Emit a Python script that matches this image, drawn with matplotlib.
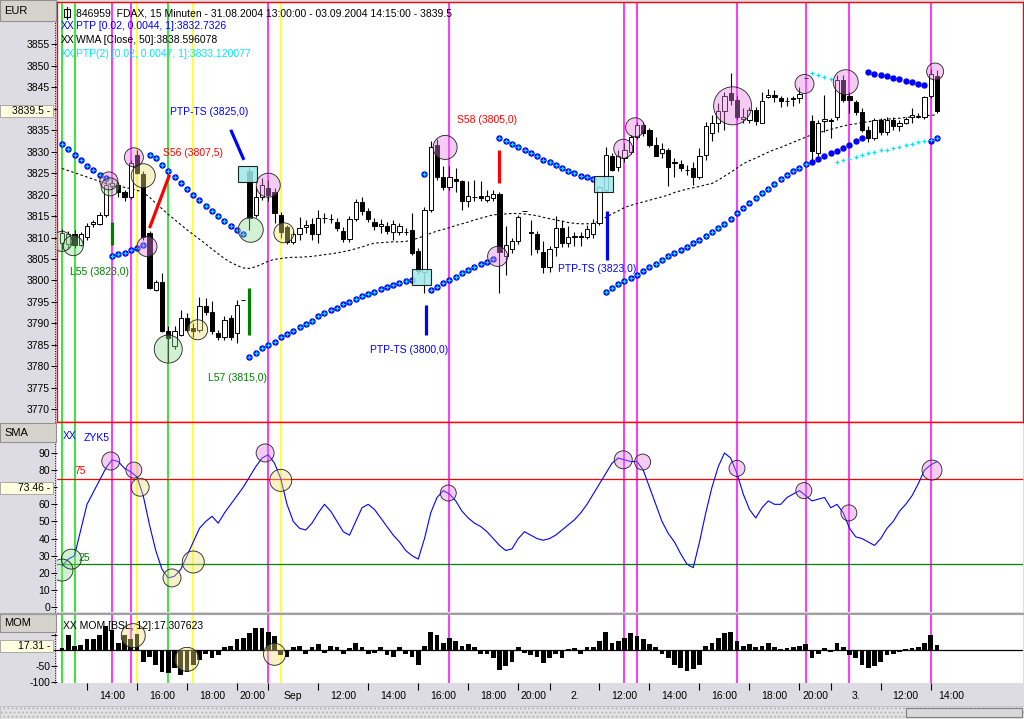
import numpy as np
import matplotlib
matplotlib.use('Agg')
import matplotlib.pyplot as plt
from matplotlib.patches import Rectangle
from matplotlib.lines import Line2D

plt.rcParams['font.family'] = ['Liberation Sans', 'DejaVu Sans']
plt.rcParams['font.size'] = 7.5

# ---------------- data (15 min bars, 31.08.2004 13:00 .. 03.09.2004 14:15) ----------------
opens = [3808.8, 3808.4, 3810.8, 3808.3, 3810.2, 3813.1, 3813.1, 3815.3, 3822.1, 3822.3,
         3820.5, 3819.5, 3829.2, 3824.8, 3811.0, 3797.8, 3799.7, 3788.1, 3784.6, 3787.3,
         3791.2, 3788.8, 3788.5, 3794.1, 3792.7, 3787.7, 3786.8, 3791.2, 3787.7, 3795.5,
         3825.4, 3815.3, 3819.5, 3821.5, 3820.7, 3815.3, 3812.5, 3809.0, 3810.8, 3812.5,
         3813.2, 3810.9, 3814.5, 3814.4, 3813.7, 3811.6, 3809.6, 3814.3, 3818.2, 3816.1,
         3813.7, 3812.6, 3812.7, 3811.4, 3811.4, 3811.4, 3811.8, 3806.8, 3802.0, 3816.5,
         3831.6, 3824.1, 3821.7, 3823.6, 3823.1, 3818.4, 3819.4, 3819.7, 3818.8, 3819.1,
         3820.2, 3805.6, 3807.3, 3809.1, 3816.1, 3811.2, 3810.9, 3806.7, 3803.1, 3807.9,
         3812.2, 3808.7, 3810.2, 3810.4, 3810.2, 3810.9, 3813.4, 3821.1, 3828.9, 3826.5,
         3828.5, 3830.0, 3833.5, 3836.2, 3835.1, 3831.6, 3829.6, 3830.3, 3827.5, 3827.2,
         3825.8, 3826.3, 3824.2, 3829.3, 3834.4, 3836.6, 3839.4, 3843.6, 3842.1, 3837.6,
         3837.4, 3839.7, 3836.6, 3842.7, 3843.2, 3842.6, 3841.9, 3842.5, 3842.6, 3847.2,
         3837.2, 3829.7, 3837.2, 3837.3, 3838.2, 3846.8, 3842.9, 3841.6, 3839.2, 3835.1,
         3833.2, 3837.4, 3834.6, 3837.4, 3836.1, 3836.7, 3838.0, 3838.0, 3838.2, 3843.1,
         3847.6]
highs = [3812.0, 3811.5, 3811.8, 3811.3, 3813.5, 3814.0, 3816.0, 3823.5, 3823.7, 3823.0,
         3821.0, 3828.1, 3830.5, 3825.5, 3811.5, 3800.2, 3801.7, 3789.3, 3789.3, 3793.1,
         3792.3, 3790.0, 3796.2, 3795.8, 3795.1, 3788.5, 3791.6, 3792.0, 3795.5, 3795.5,
         3826.5, 3821.9, 3823.9, 3823.5, 3821.5, 3816.0, 3813.0, 3811.6, 3814.9, 3814.0,
         3814.5, 3816.5, 3815.7, 3815.5, 3814.5, 3812.5, 3815.0, 3819.0, 3819.5, 3816.9,
         3814.5, 3814.4, 3813.6, 3814.1, 3813.5, 3812.2, 3815.7, 3807.5, 3817.0, 3832.4,
         3833.0, 3826.6, 3826.6, 3826.2, 3823.5, 3823.1, 3823.4, 3823.1, 3821.0, 3821.1,
         3820.7, 3812.6, 3810.0, 3815.3, 3816.1, 3814.1, 3811.5, 3809.1, 3808.0, 3815.0,
         3814.0, 3812.8, 3811.4, 3811.4, 3813.0, 3814.3, 3822.0, 3831.0, 3829.6, 3830.4,
         3832.0, 3834.0, 3837.0, 3837.0, 3835.5, 3833.5, 3832.0, 3830.8, 3828.5, 3828.1,
         3826.9, 3827.7, 3830.8, 3837.0, 3838.6, 3841.3, 3844.0, 3848.4, 3842.9, 3840.1,
         3840.5, 3840.5, 3844.0, 3844.6, 3844.4, 3842.9, 3842.7, 3842.9, 3845.2, 3847.2,
         3838.6, 3837.4, 3843.3, 3837.9, 3847.9, 3847.9, 3844.0, 3842.0, 3840.2, 3835.9,
         3837.9, 3837.9, 3838.0, 3838.2, 3837.4, 3838.2, 3840.3, 3839.0, 3843.0, 3849.3,
         3849.0]
lows = [3807.0, 3807.5, 3807.5, 3808.0, 3809.4, 3812.5, 3813.0, 3814.9, 3821.3, 3819.5,
        3818.6, 3819.0, 3824.8, 3809.5, 3798.0, 3797.5, 3788.0, 3781.1, 3784.0, 3787.0,
        3788.0, 3786.9, 3788.0, 3792.0, 3787.5, 3786.2, 3786.2, 3786.1, 3785.4, 3795.5,
        3811.8, 3814.9, 3818.8, 3818.5, 3813.3, 3810.0, 3808.5, 3808.5, 3809.4, 3811.0,
        3809.5, 3808.7, 3813.3, 3813.5, 3811.5, 3809.0, 3809.0, 3813.8, 3815.3, 3813.7,
        3811.8, 3811.0, 3810.9, 3809.5, 3810.5, 3810.6, 3806.0, 3801.5, 3797.0, 3816.0,
        3823.5, 3821.1, 3821.0, 3820.7, 3816.5, 3817.1, 3818.4, 3818.4, 3818.3, 3818.4,
        3797.0, 3801.3, 3806.5, 3808.5, 3816.1, 3806.0, 3806.5, 3801.7, 3802.0, 3805.6,
        3807.7, 3807.7, 3808.0, 3808.0, 3809.7, 3810.0, 3813.0, 3820.5, 3825.4, 3825.4,
        3827.5, 3829.5, 3833.0, 3833.7, 3831.0, 3828.9, 3828.5, 3821.9, 3824.2, 3825.4,
        3824.6, 3822.3, 3823.7, 3828.1, 3832.4, 3834.7, 3835.1, 3840.9, 3837.4, 3836.6,
        3836.8, 3836.2, 3836.6, 3842.5, 3841.7, 3840.5, 3840.6, 3840.6, 3841.3, 3847.2,
        3827.7, 3828.9, 3834.7, 3833.2, 3837.4, 3841.5, 3839.0, 3838.6, 3834.7, 3832.2,
        3832.8, 3834.0, 3834.0, 3835.1, 3834.9, 3836.4, 3836.7, 3837.8, 3837.6, 3842.6,
        3839.0]
closes = [3811.0, 3810.8, 3808.3, 3810.8, 3812.6, 3813.6, 3815.3, 3822.3, 3822.8, 3820.5,
          3819.5, 3827.3, 3825.0, 3810.2, 3798.2, 3799.7, 3788.1, 3786.5, 3788.1, 3791.2,
          3788.5, 3788.1, 3794.1, 3792.7, 3788.1, 3786.8, 3790.8, 3786.8, 3794.3, 3795.5,
          3814.5, 3819.5, 3822.3, 3819.9, 3815.7, 3811.4, 3809.0, 3810.8, 3812.2, 3813.0,
          3810.9, 3814.5, 3814.6, 3814.3, 3812.2, 3809.6, 3814.3, 3818.2, 3816.1, 3814.3,
          3812.6, 3813.2, 3811.6, 3813.2, 3812.7, 3811.3, 3806.4, 3802.1, 3816.5, 3831.2,
          3824.1, 3821.7, 3824.1, 3823.1, 3818.4, 3819.6, 3819.5, 3819.1, 3819.7, 3820.2,
          3806.7, 3808.2, 3809.1, 3814.8, 3816.1, 3811.1, 3807.3, 3803.1, 3807.3, 3812.2,
          3808.7, 3810.1, 3810.3, 3810.2, 3812.0, 3813.3, 3821.8, 3829.3, 3825.8, 3828.9,
          3830.4, 3833.5, 3836.2, 3834.3, 3831.6, 3829.0, 3830.6, 3826.5, 3827.4, 3826.1,
          3825.7, 3824.2, 3828.9, 3835.9, 3836.8, 3839.4, 3842.9, 3842.1, 3838.0, 3838.1,
          3839.7, 3837.2, 3841.9, 3843.2, 3842.7, 3841.9, 3841.8, 3842.4, 3843.4, 3847.2,
          3830.1, 3836.7, 3837.7, 3837.2, 3846.8, 3842.1, 3842.1, 3839.2, 3835.1, 3833.2,
          3837.4, 3834.6, 3837.4, 3836.1, 3836.7, 3837.7, 3838.6, 3838.4, 3842.7, 3848.1,
          3839.5]

wma = [3826.1, 3825.6, 3825.1, 3824.6, 3824.1, 3823.6, 3823.1, 3822.6, 3822.3, 3822.0,
       3821.7, 3821.4, 3821.0, 3820.5, 3819.4, 3818.0, 3816.7, 3815.4, 3814.2, 3813.0,
       3811.8, 3810.7, 3809.6, 3808.5, 3807.3, 3806.2, 3805.1, 3804.2, 3803.5, 3802.9,
       3802.8, 3803.2, 3803.8, 3804.5, 3804.9, 3805.1, 3805.3, 3805.4, 3805.4, 3805.5,
       3805.6, 3805.8, 3806.0, 3806.2, 3806.4, 3806.7, 3807.0, 3807.4, 3807.8, 3808.3,
       3808.7, 3808.8, 3808.9, 3809.0, 3809.0, 3809.1, 3809.4, 3809.9, 3810.4, 3811.0,
       3811.5, 3811.9, 3812.3, 3812.8, 3813.2, 3813.6, 3814.1, 3814.5, 3814.9, 3815.3,
       3815.4, 3815.5, 3815.6, 3815.6, 3815.5, 3815.3, 3815.1, 3814.7, 3814.4, 3814.1,
       3813.8, 3813.5, 3813.3, 3813.2, 3813.2, 3813.3, 3813.9, 3814.7, 3815.5, 3816.2,
       3817.0, 3817.5, 3817.9, 3818.3, 3818.7, 3819.1, 3819.5, 3819.9, 3820.5, 3820.9,
       3821.3, 3821.6, 3821.9, 3822.3, 3822.6, 3823.4, 3824.3, 3825.2, 3826.2, 3827.2,
       3827.9, 3828.5, 3829.2, 3829.9, 3830.5, 3831.0, 3831.6, 3832.2, 3832.8, 3833.4,
       3834.0, 3834.4, 3834.8, 3835.2, 3835.6, 3836.0, 3836.3, 3836.5, 3836.8, 3837.0,
       3837.2, 3837.4, 3837.6, 3837.7, 3837.8, 3838.0, 3838.1, 3838.2, 3838.4, 3838.5,
       3838.6]

nan = np.nan
ptp = [3831.7, 3830.6, 3829.3, 3828.0, 3826.7, 3825.8, 3824.6, 3823.8, 3805.7, 3806.1,
       3806.5, 3807.0, 3807.5, 3808.2, 3829.3, 3828.5, 3827.0, 3825.6, 3824.2, 3822.8,
       3821.3, 3820.0, 3818.8, 3817.4, 3816.2, 3815.1, 3813.9, 3812.7, 3811.8, 3810.8,
       3782.2, 3783.2, 3784.2, 3785.0, 3785.7, 3786.8, 3787.5, 3788.3, 3789.2, 3789.9,
       3790.6, 3791.6, 3792.3, 3793.0, 3793.6, 3794.4, 3795.0, 3795.7, 3796.3, 3796.9,
       3797.4, 3798.0, 3798.5, 3799.0, 3799.4, 3799.8, 3800.2, nan, 3824.8, 3797.7,
       3798.5, 3799.4, 3800.1, 3800.9, 3801.7, 3802.5, 3803.1, 3803.8, 3804.4, 3805.0,
       3833.2, 3832.4, 3831.8, 3831.2, 3830.5, 3829.7, 3828.9, 3828.1, 3827.5, 3826.8,
       3826.2, 3825.5, 3825.0, 3824.4, 3824.0, 3823.6, nan, 3797.4, 3798.2, 3799.1,
       3799.8, 3800.5, 3801.3, 3802.2, 3803.1, 3803.9, 3804.7, 3805.6, 3806.4, 3807.1,
       3807.9, 3808.7, 3809.5, 3810.4, 3811.3, 3812.2, 3813.1, 3814.4, 3815.7, 3816.9,
       3818.0, 3819.2, 3820.3, 3821.4, 3822.5, 3823.6, 3824.5, 3825.4, 3826.3, 3827.2,
       3827.6, 3828.2, 3828.9, 3829.6, 3830.2, 3830.9, 3831.6, 3832.4, 3833.2, 3848.6,
       3848.2, 3847.9, 3847.6, 3847.3, 3846.9, 3846.6, 3846.3, 3845.9, 3845.6, 3832.6,
       3833.2]
# PTP(2) runs on top of PTP until bar 119, then splits off
ptp2_tail = [3848.3, 3847.9, 3847.4, 3847.0, 3827.7, 3828.0, 3828.4, 3828.8, 3829.2, 3829.6,
             3830.0, 3830.3, 3830.5, 3830.8, 3831.2, 3831.6, 3831.9, 3832.2, 3832.5, 3832.8,
             3833.1]
ptp2 = ptp[:120] + ptp2_tail

zyk5 = [24, 28, 30, 45, 60, 67, 74, 81, 86, 85,
        81, 79, 76, 65, 48, 33, 22, 17, 18, 22,
        30, 38, 46, 50, 53, 49, 55, 60, 65, 70,
        76, 82, 87, 89, 84, 75, 60, 50, 46, 45,
        49, 55, 60, 56, 50, 44, 42, 50, 58, 60,
        57, 52, 47, 42, 38, 33, 30, 28, 40, 55,
        64, 68, 66, 62, 56, 52, 49, 47, 44, 40,
        36, 33, 34, 40, 44, 42, 40, 39, 40, 42,
        45, 48, 51, 55, 60, 66, 72, 78, 84, 87,
        86, 85, 85, 80, 70, 60, 50, 43, 38, 31,
        25, 23, 38, 55, 70, 82, 90, 87, 78, 66,
        57, 52, 58, 62, 60, 60, 64, 66, 68, 65,
        62, 63, 64, 58, 60, 55, 46, 41, 40, 38,
        36, 40, 46, 50, 56, 60, 65, 72, 80, 83,
        85]

mom = [9, 48, 14, 17, 35, 35, 48, 77, 64, 24,
       48, 38, 53, -36, -20, -46, -67, -72, -57, -77,
       -67, -46, -30, -10, -25, -15, 10, 15, 35, 40,
       55, 70, 72, 60, 45, -15, -20, 10, 15, -10,
       12, 20, -8, 15, 10, -10, 8, 25, 12, -10,
       -8, 10, -15, -20, 10, -10, -20, -45, 15, 60,
       50, 25, 40, 30, 15, 20, 10, -12, -10, -25,
       -62, -50, -38, 12, -8, -15, -20, -40, -25, -12,
       -25, 5, 8, -10, 10, 12, 30, 58, 25, 30,
       40, 55, 45, 35, 20, 10, -10, -25, -45, -55,
       -65, -60, -45, 15, 25, 40, 55, 60, 30, 15,
       20, 10, 15, 25, 10, 5, 8, 10, 15, 20,
       -25, -10, 8, -5, 25, 10, -15, -25, -45, -55,
       -50, -35, -15, -10, -5, 5, 8, 12, 25, 50,
       17.3]

# event lines (bar index, colour)
event_bars = [0, 2, 8, 11, 12, 17, 21, 33, 35, 62, 90, 92, 108, 119, 126, 139]
event_cols = ['#00e000', '#00e000', '#ff00ff', '#ff00ff', '#ffff00', '#00e000', '#ffff00',
              '#ff00ff', '#ffff00', '#ff00ff', '#ff00ff', '#ff00ff', '#ff00ff', '#ff00ff',
              '#ff00ff', '#ff00ff']

# highlight circles: (bar, value, radius px, kind)
price_marks = [(0, 3809.1, 10, 'g'), (1.8, 3808.1, 10, 'g'), (7.7, 3821.8, 9, 'g'),
               (7.5, 3823.2, 9, 'p'), (11.5, 3828.7, 9.5, 'p'), (13, 3824.4, 12, 'y'),
               (13.6, 3807.9, 10, 'p'), (17, 3784.0, 14, 'g'), (21.7, 3788.5, 10, 'y'),
               (30.2, 3811.8, 12.5, 'g'), (33, 3822.2, 12, 'p'), (35.5, 3811.1, 10, 'y'),
               (61.3, 3831.0, 12, 'p'), (69.7, 3805.6, 10, 'p'), (89.8, 3830.7, 9.5, 'p'),
               (91.7, 3835.7, 9.5, 'p'), (107.3, 3840.7, 19, 'p'), (118.8, 3845.8, 9.5, 'p'),
               (125.4, 3846.2, 12.5, 'p'), (139.7, 3848.7, 8.5, 'p')]
sma_marks = [(0, 21.6, 11, 'g'), (1.5, 28, 10, 'g'), (7.8, 85.3, 9, 'p'), (11.5, 80, 8, 'p'),
             (12.5, 70, 9, 'y'), (17.6, 17, 9, 'y'), (21, 26.3, 11, 'y'), (32.5, 90, 9, 'p'),
             (35, 74, 11, 'y'), (61.8, 66.6, 8, 'p'), (89.8, 86, 9, 'p'), (92.9, 84.7, 8, 'p'),
             (108, 81, 8, 'p'), (118.7, 68, 8, 'p'), (125.9, 55, 8, 'p'), (139.2, 80, 10, 'p')]
mom_marks = [(11.4, 47, 12, 'y'), (20, -28, 12, 'y'), (34, -12, 11, 'y')]

# trade signals: (bar0, value0, bar1, value1, colour)
signals = [(8, 3808.3, 8, 3813.7, '#008000'), (14, 3812.2, 17.2, 3824.6, '#ff0000'),
           (27, 3835.1, 29.1, 3828.1, '#0000ff'), (30, 3787.3, 30, 3798.3, '#008000'),
           (58.2, 3787.3, 58.2, 3794.3, '#0000ff'), (70, 3822.7, 70, 3830.4, '#ff0000'),
           (87.2, 3804.8, 87.2, 3816.1, '#0000ff')]
signal_text = [(1.3, 3802.0, 'L55 (3823,0)', '#008000'), (16.2, 3829.7, 'S56 (3807,5)', '#ff0000'),
               (17.3, 3839.3, 'PTP-TS (3825,0)', '#0000ff'), (23.4, 3777.3, 'L57 (3815,0)', '#008000'),
               (49.3, 3783.8, 'PTP-TS (3800,0)', '#0000ff'), (63.2, 3837.4, 'S58 (3805,0)', '#ff0000'),
               (79.4, 3802.7, 'PTP-TS (3823,0)', '#0000ff')]
# trailing-stop boxes: centre bar, centre value
ts_boxes = [(29.6, 3824.9), (57.6, 3800.75), (86.7, 3822.55)]

tick_bars = [4, 12, 20, 28, 33, 41, 49, 57, 65, 73, 78, 86, 94, 102, 110, 118, 123, 131, 139]
tick_labels = ['14:00', '16:00', '18:00', '20:00', 'Sep', '12:00', '14:00', '16:00', '18:00',
               '20:00', '2.', '12:00', '14:00', '16:00', '18:00', '20:00', '3.', '12:00', '14:00']

# ---------------- layout ----------------
W, H = 1024, 719
GRAY = '#dcdce2'
fig = plt.figure(figsize=(W / 100, H / 100), dpi=100, facecolor=GRAY)


def rect(x0, y0, x1, y1):
    return [x0 / W, 1 - y1 / H, (x1 - x0) / W, (y1 - y0) / H]


ax_p = fig.add_axes(rect(57, 2, 1023, 422))
ax_s = fig.add_axes(rect(57, 423, 1023, 612))
ax_m = fig.add_axes(rect(57, 615, 1023, 683))

xlim = (-0.8, 153.76)
for ax in (ax_p, ax_s, ax_m):
    ax.set_facecolor('white')
    ax.set_xlim(*xlim)
    ax.tick_params(axis='y', direction='out', length=4, width=0.7, pad=1, labelsize=7.5)
    ax.tick_params(axis='x', bottom=False, labelbottom=False)
    for b, c in zip(event_bars, event_cols):
        ax.axvline(b, color=c, lw=1.1, zorder=1)

for sp in ax_p.spines.values():
    sp.set_color('#ff0000')
    sp.set_linewidth(1.0)
for ax in (ax_s, ax_m):
    for sp in ax.spines.values():
        sp.set_visible(False)

ax_p.set_ylim(3767.0, 3864.9)
ax_s.set_ylim(-2.9, 107.5)
ax_m.set_ylim(-103, 112.5)

# tick labels hidden under the current-value boxes are left blank
p_ticks = np.arange(3770, 3860, 5)
ax_p.set_yticks(p_ticks)
ax_p.set_yticklabels(['' if t == 3840 else str(t) for t in p_ticks])
s_ticks = np.arange(0, 100, 10)
ax_s.set_yticks(s_ticks)
ax_s.set_yticklabels(['' if t == 70 else str(t) for t in s_ticks])
ax_m.set_yticks([50, 0, -50, -100])
ax_m.set_yticklabels(['', '', '-50', '-100'])

# ---------------- price panel ----------------
x = np.arange(len(opens))
o, h, l, c = map(np.array, (opens, highs, lows, closes))
ax_p.vlines(x, l, h, color='black', lw=0.8, zorder=3)
up = c >= o
ax_p.bar(x, np.abs(c - o), bottom=np.minimum(o, c), width=0.66,
         color=np.where(up, 'white', 'black'), edgecolor='black', linewidth=0.7, zorder=4)

ax_p.plot(x, wma, color='black', lw=0.8, ls=(0, (2.2, 2.2)), zorder=2)
ax_p.plot(x, ptp, ls='none', marker='o', ms=3.6, color='#0000ff', mec='#0000ff', zorder=5)
ax_p.plot(x, ptp2, ls='none', marker='+', ms=3.2, mew=0.9, color='#00e8ff', zorder=6)

for b, v in ts_boxes:
    ax_p.add_patch(Rectangle((b - 1.52, v - 1.85), 3.04, 3.7, facecolor='#9fe9ec',
                             edgecolor='black', lw=0.8, alpha=0.85, zorder=7))

for b0, v0, b1, v1, col in signals:
    ax_p.plot([b0, b1], [v0, v1], color=col, lw=2.3, solid_capstyle='butt', zorder=6)
for b, v, t, col in signal_text:
    ax_p.text(b, v, t, color=col, fontsize=7.5, ha='left', va='center', zorder=8)

fills = {'p': '#e27ee2', 'y': '#eee07a', 'g': '#8fdc8f'}


def circles(ax, marks):
    for b, v, r, k in marks:
        ax.scatter([b], [v], s=(2 * r * 0.72) ** 2, facecolor=fills[k], alpha=0.4,
                   edgecolor='none', zorder=9)
        ax.scatter([b], [v], s=(2 * r * 0.72) ** 2, facecolor='none',
                   edgecolor='#202020', linewidth=0.6, zorder=10)


circles(ax_p, price_marks)

# ---------------- SMA panel ----------------
ax_s.axhline(75, color='#ff0000', lw=0.9, zorder=2)
ax_s.axhline(25, color='#008000', lw=0.9, zorder=2)
ax_s.plot(x, zyk5, color='#0000ff', lw=0.8, zorder=4)
circles(ax_s, sma_marks)
ax_s.text(2.9, 79.5, '75', color='#ff0000', fontsize=7.5, ha='center', va='center', zorder=11)
ax_s.text(3.5, 28.5, '25', color='#008000', fontsize=7.5, ha='center', va='center', zorder=11)
ax_s.text(0.2, 100, 'XX', color='#0000ff', fontsize=7.5, ha='left', va='center')
ax_s.text(3.4, 98.5, 'ZYK5', color='#0000ff', fontsize=7.5, ha='left', va='center')

# ---------------- MOM panel ----------------
ax_m.bar(x, mom, width=0.75, color='black', zorder=3)
ax_m.axhline(0, color='black', lw=0.9, zorder=4)
circles(ax_m, mom_marks)
ax_m.text(0.2, 79, 'XX MOM [BSL, 12]:17.307623', color='black', fontsize=7.5,
          ha='left', va='center', zorder=11)

# time axis
ax_m.set_xticks(tick_bars)
ax_m.set_xticklabels([''] * len(tick_bars))
ax_m.tick_params(axis='x', which='major', bottom=True, direction='out', length=5, width=0.8)
label_pos = [(a + b) / 2 for a, b in zip(tick_bars[:-1], tick_bars[1:])] + [tick_bars[-1] + 3.3]
ax_m.set_xticks(label_pos, minor=True)
ax_m.set_xticklabels(tick_labels, minor=True, fontsize=7.5)
ax_m.tick_params(axis='x', which='minor', bottom=True, labelbottom=True, length=0, pad=6)


# ---------------- header texts ----------------
def ptxt(px, py, s, **kw):
    fig.text(px / W, 1 - py / H, s, va='center', fontsize=7.5, **kw)


ptxt(76, 13, '846959  FDAX, 15 Minuten - 31.08.2004 13:00:00 - 03.09.2004 14:15:00 - 3839.5')
fig.add_artist(Rectangle((64 / W, 1 - 17 / H), 6 / W, 8 / H, facecolor='white',
                         edgecolor='black', lw=0.8))
fig.add_artist(Line2D([67 / W, 67 / W], [1 - 19 / H, 1 - 7 / H], color='black', lw=0.8))
ptxt(61, 26, 'XX', color='#0000ff')
ptxt(76, 26, 'PTP [0.02, 0.0044, 1]:3832.7326', color='#0000ff')
ptxt(61, 40, 'XX', color='black')
ptxt(76, 40, 'WMA [Close, 50]:3838.596078', color='black')
ptxt(61, 54, 'XX', color='#00e8ff')
ptxt(76, 54, 'PTP(2) [0.02, 0.0047, 1]:3833.120077', color='#00e8ff')

# left column: panel names, dotted axis line, current values
for y0, y1, name in [(0, 21, 'EUR'), (423, 442, 'SMA'), (614, 632, 'MOM')]:
    fig.add_artist(Rectangle((0, 1 - y1 / H), 56 / W, (y1 - y0) / H, facecolor='#d6d3cc',
                             edgecolor='#909090', lw=0.8))
    fig.text(4 / W, 1 - (y0 + y1) / 2 / H, name, va='center', fontsize=8)

for y0, y1 in [(22, 422), (443, 612), (633, 683)]:
    fig.add_artist(Line2D([55 / W, 55 / W], [1 - y1 / H, 1 - y0 / H], color='black',
                          lw=0.7, ls=(0, (1, 1.5))))

for yc, s in [(111, '3839.5'), (488, '73.46'), (646, '17.31')]:
    fig.add_artist(Rectangle((0, 1 - (yc + 6) / H), 53 / W, 12 / H, facecolor='#ffffe0',
                             edgecolor='#a0a0a0', lw=0.6, zorder=5))
    fig.text(50 / W, 1 - yc / H, s + ' -', ha='right', va='center', fontsize=7.5, zorder=6)

# red panel separator and the bottom scroll strip
fig.add_artist(Line2D([57 / W, 1023 / W], [1 - 422 / H, 1 - 422 / H], color='#ff0000', lw=1))
fig.add_artist(Line2D([0, 1], [1 - 613.5 / H, 1 - 613.5 / H], color='#a0a0a0', lw=1.5))
fig.add_artist(Rectangle((0, 0), 1, 13 / H, facecolor='#e4e4e4', edgecolor='#b8b8b8',
                         hatch='....', lw=0.5))
fig.add_artist(Rectangle((906 / W, 2 / H), 116 / W, 9 / H, facecolor='#d8d8d8',
                         edgecolor='#808080', lw=0.8))

fig.savefig('out.png', dpi=100, facecolor=GRAY)
